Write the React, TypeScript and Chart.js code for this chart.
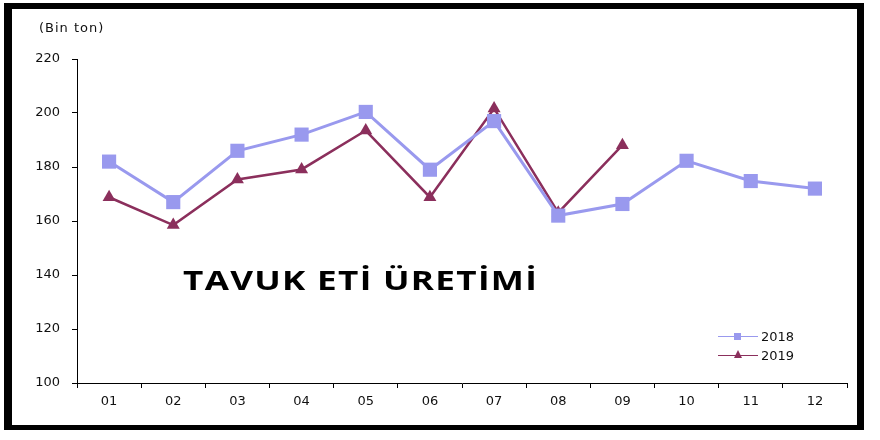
import { useEffect, useRef } from "react"
import { Chart, registerables } from "chart.js"

Chart.register(...registerables)

// aylar (x ekseni)
const months = ["01", "02", "03", "04", "05", "06", "07", "08", "09", "10", "11", "12"]
// bin ton
const values2018 = [182, 167, 186, 192, 200.4, 179, 197, 162, 166.3, 182.3, 174.8, 172]
const values2019 = [168.8, 158.5, 175.4, 179.1, 193.5, 168.8, 201.7, 163.1, 188.1]
const yTicks = [100, 120, 140, 160, 180, 200, 220]

const color2018 = "#9999ee"
const color2019 = "#8b2f5c"
const tickFont = "DejaVu Sans"

export default function App() {
  const chartRef = useRef<HTMLCanvasElement>(null)
  const chartInstance = useRef<Chart | null>(null)

  useEffect(() => {
    if (!chartRef.current) return
    if (chartInstance.current) chartInstance.current.destroy()
    const ctx = chartRef.current.getContext("2d")
    if (!ctx) return

    chartInstance.current = new Chart(ctx, {
      type: "line",
      data: {
        labels: months,
        datasets: [
          {
            label: "2018",
            data: values2018,
            borderColor: color2018,
            backgroundColor: color2018,
            borderWidth: 3,
            pointStyle: "rect",
            pointRadius: 10,
            pointBorderWidth: 0,
            tension: 0,
          },
          {
            label: "2019",
            data: values2019,
            borderColor: color2019,
            backgroundColor: color2019,
            borderWidth: 2.5,
            pointStyle: "triangle",
            pointRadius: 7.5,
            pointBorderWidth: 0,
            tension: 0,
          },
        ],
      },
      options: {
        responsive: false,
        animation: false,
        layout: { padding: { top: 59, right: 33, bottom: 0, left: 0 } },
        plugins: {
          legend: { display: false },
          tooltip: { enabled: false },
        },
        scales: {
          x: {
            type: "category",
            offset: true,
            grid: {
              offset: true,
              drawOnChartArea: false,
              drawTicks: true,
              tickLength: 5,
              color: "#000",
            },
            border: { display: true, color: "#000", width: 1 },
            ticks: {
              color: "#111",
              padding: 6,
              font: { family: tickFont, size: 13 },
              maxRotation: 0,
            },
            afterFit: (scale) => {
              scale.height = 57
            },
          },
          y: {
            min: 100,
            max: 220,
            afterBuildTicks: (scale) => {
              scale.ticks = yTicks.map((v) => ({ value: v }))
            },
            grid: {
              drawOnChartArea: false,
              drawTicks: true,
              tickLength: 5,
              color: "#000",
            },
            border: { display: true, color: "#000", width: 1 },
            ticks: {
              color: "#111",
              padding: 12,
              font: { family: tickFont, size: 13 },
            },
            afterFit: (scale) => {
              scale.width = 77
            },
          },
        },
      },
    })

    return () => {
      if (chartInstance.current) chartInstance.current.destroy()
    }
  }, [])

  const legendRow = (label: string, color: string, marker: "square" | "triangle", top: number) => (
    <div style={{ position: "absolute", left: 718, top, height: 16, display: "flex", alignItems: "center" }}>
      <div style={{ position: "relative", width: 40, height: 16 }}>
        <div style={{ position: "absolute", left: 0, top: 7.5, width: 40, height: 1.5, background: color }} />
        {marker === "square" ? (
          <div style={{ position: "absolute", left: 16, top: 5, width: 7, height: 7, background: color }} />
        ) : (
          <div
            style={{
              position: "absolute",
              left: 16,
              top: 3,
              width: 0,
              height: 0,
              borderLeft: "4px solid transparent",
              borderRight: "4px solid transparent",
              borderBottom: `8px solid ${color}`,
            }}
          />
        )}
      </div>
      <span style={{ marginLeft: 3, fontFamily: tickFont, fontSize: 13, color: "#111" }}>{label}</span>
    </div>
  )

  return (
    <div style={{ position: "fixed", left: 0, top: 0, width: 880, height: 440, background: "#fff", overflow: "hidden" }}>
      <canvas ref={chartRef} width={880} height={440} style={{ position: "absolute", left: 0, top: 0 }} />
      <div
        style={{
          position: "absolute",
          left: 4,
          top: 3,
          width: 860,
          height: 427,
          boxSizing: "border-box",
          borderStyle: "solid",
          borderColor: "#000",
          borderWidth: "6px 7px 5px 8px",
          pointerEvents: "none",
        }}
      />
      <div style={{ position: "absolute", left: 39, top: 20, fontFamily: tickFont, fontSize: 13, color: "#111", letterSpacing: 1 }}>
        (Bin ton)
      </div>
      <div
        style={{
          position: "absolute",
          left: 183,
          top: 263,
          fontFamily: "'Open Sans'",
          fontWeight: 700,
          fontSize: 27,
          lineHeight: "34px",
          color: "#000",
          letterSpacing: 1,
          whiteSpace: "nowrap",
          transform: "scaleX(1.3)",
          transformOrigin: "left center",
        }}
      >
        TAVUK ETİ ÜRETİMİ
      </div>
      {legendRow("2018", color2018, "square", 328)}
      {legendRow("2019", color2019, "triangle", 347)}
    </div>
  )
}
